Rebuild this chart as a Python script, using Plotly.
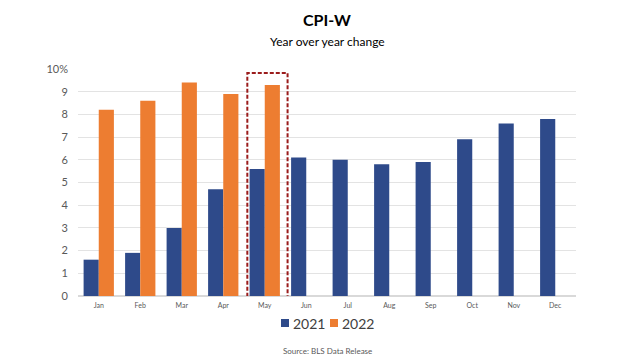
import plotly.graph_objects as go

months = ["Jan", "Feb", "Mar", "Apr", "May", "Jun", "Jul", "Aug", "Sep", "Oct", "Nov", "Dec"]
cpi_2021 = [1.6, 1.9, 3.0, 4.7, 5.6, 6.1, 6.0, 5.8, 5.9, 6.9, 7.6, 7.8]
cpi_2022 = [8.2, 8.6, 9.4, 8.9, 9.3, None, None, None, None, None, None, None]
series_names = ["2021", "2022"]
series_colors = ["#2E4A8A", "#ED7D31"]
y_tickvals = [0, 1, 2, 3, 4, 5, 6, 7, 8, 9, 10]
y_ticktext = ["0", "1", "2", "3", "4", "5", "6", "7", "8", "9", "10%"]

FONT = "Lato, Open Sans, sans-serif"

fig = go.Figure()
for name, vals, col in zip(series_names, [cpi_2021, cpi_2022], series_colors):
    fig.add_trace(go.Bar(x=months, y=vals, name=name, marker_color=col,
                         marker_line_width=0, showlegend=False))

# page body adds an 8px margin, so the figure is 632x352 and offset by 8px
fig.update_layout(
    width=632, height=352,
    margin=dict(l=70, r=64, t=61, b=64, autoexpand=False),
    paper_bgcolor="white", plot_bgcolor="white",
    barmode="group", bargap=0.27, bargroupgap=0,
    font=dict(family=FONT, color="#595959"),
    xaxis=dict(showgrid=False, tickfont=dict(size=7, color="#595959"), ticks="",
               showline=False, ticklabelstandoff=4),
    yaxis=dict(range=[0, 10], tickvals=y_tickvals, ticktext=y_ticktext,
               showgrid=True, gridcolor="#E3E3E3", gridwidth=1, zeroline=True,
               zerolinecolor="#D9D9D9", tickfont=dict(size=11, color="#595959"),
               ticks="", ticklabelstandoff=9),
)

# highlight box around May
fig.add_shape(type="rect", xref="x", yref="y", x0=3.58, x1=4.55, y0=-0.75, y1=9.82,
              line=dict(color="#9B1C1C", width=2, dash="4px,2px"), fillcolor="rgba(0,0,0,0)")

# legend (compact, as in the reference)
legend_x = [0.4076, 0.506]
for name, col, lx in zip(series_names, series_colors, legend_x):
    fig.add_shape(type="rect", xref="paper", yref="paper", x0=lx, x1=lx + 0.0161,
                  y0=-0.1366, y1=-0.1013, fillcolor=col, line=dict(width=0))
    fig.add_annotation(text=name, xref="paper", yref="paper", x=lx + 0.021, y=-0.119,
                       xanchor="left", yanchor="middle", showarrow=False,
                       font=dict(size=14, color="#404040", family=FONT))

fig.add_annotation(text="<b>CPI-W</b>", xref="paper", yref="paper", x=0.5, y=1.216,
                   showarrow=False, font=dict(size=16, color="#000000", family=FONT), yanchor="middle")
fig.add_annotation(text="Year over year change", xref="paper", yref="paper", x=0.5, y=1.123,
                   showarrow=False, font=dict(size=12, color="#000000", family=FONT), yanchor="middle")
fig.add_annotation(text="Source: BLS Data Release", xref="paper", yref="paper", x=0.5, y=-0.242,
                   showarrow=False, font=dict(size=8, color="#595959", family=FONT), yanchor="middle")

fig.write_html("out.html")
